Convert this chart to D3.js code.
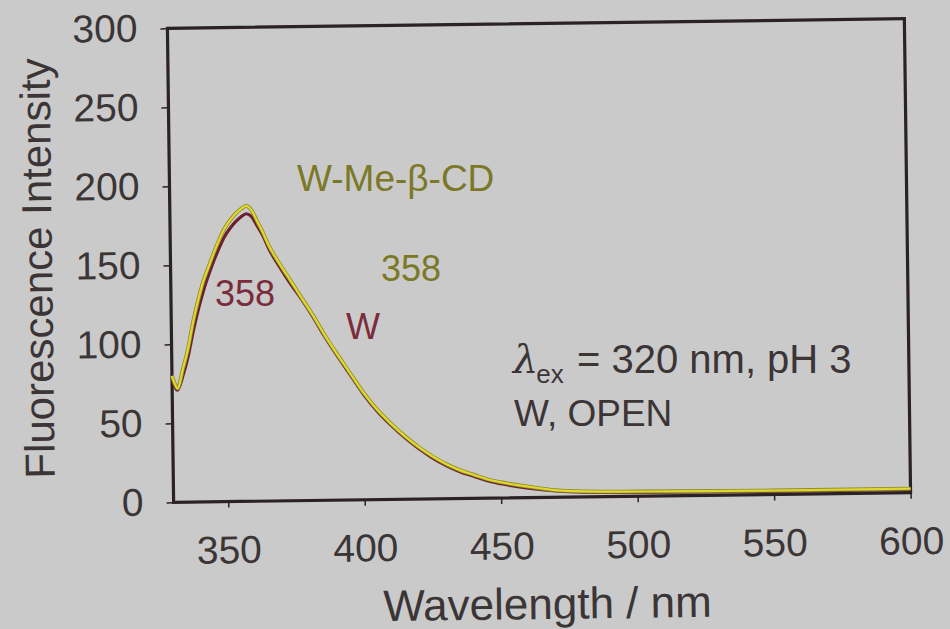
<!DOCTYPE html>
<html>
<head>
<meta charset="utf-8">
<script src="https://cdn.jsdelivr.net/npm/d3@7"></script>
<style>
  body { margin: 0; background: #c9c9c9; }
  svg { display: block; font-family: "Liberation Sans", Arial, sans-serif; }
</style>
</head>
<body>
<div id="chart"></div>
<script>
// wavelength (nm)
const wavelengths = [330, 331, 332, 334, 336, 338, 340, 342, 344, 346, 348, 350, 352, 354, 356, 358, 360, 362, 364, 366, 370, 374, 378, 382, 386, 390, 395, 400, 405, 410, 415, 420, 425, 430, 435, 440, 445, 450, 460, 470, 480, 500, 550, 600]
// W (maroon)
const seriesW = [78, 73, 71, 80, 92, 108, 122, 134, 144, 153, 161, 168, 173, 177, 180, 182, 180, 174, 168, 160, 148, 137, 127, 116, 104, 93, 80, 67, 56, 47, 39, 32, 26, 21, 17, 14, 11, 9, 6, 4, 3, 2.5, 2, 2]
// W-Me-beta-CD (yellow)
const seriesCD = [80, 75, 72, 84, 97, 114, 128, 140, 149, 158, 166, 173, 178, 182, 185, 187, 184, 177, 170, 162, 150, 139, 128, 117, 105, 94, 81, 68, 57, 48, 40, 33, 27, 22, 18, 15, 12, 10, 7, 4.5, 3.5, 3, 2.5, 2.5]

const xTicks = [350, 400, 450, 500, 550, 600]
const yTicks = [0, 50, 100, 150, 200, 250, 300]

const width = 950, height = 629
const margin = {left: 170.5, right: 42.5, top: 23.5, bottom: 131.5}
const ink = "#3b3536"
const frameColor = "#2b2226"

const svg = d3.select("#chart").append("svg")
    .attr("width", width)
    .attr("height", height)

svg.append("rect").attr("width", width).attr("height", height).attr("fill", "#cacaca")

// the photo is slightly tilted
const g = svg.append("g").attr("transform", "rotate(-0.75, 539, 261)")

const x = d3.scaleLinear().domain([330, 600]).range([margin.left, width - margin.right])
const y = d3.scaleLinear().domain([0, 300]).range([height - margin.bottom, margin.top])

const xAxis = g.append("g")
    .attr("transform", `translate(0,${height - margin.bottom})`)
    .call(d3.axisBottom(x).tickValues(xTicks).tickSize(6).tickPadding(28).tickSizeOuter(0))
const yAxis = g.append("g")
    .attr("transform", `translate(${margin.left},0)`)
    .call(d3.axisLeft(y).tickValues(yTicks).tickSize(7).tickPadding(23).tickSizeOuter(0))

;[xAxis, yAxis].forEach(a => {
    a.select(".domain").remove()
    a.selectAll("line").attr("stroke", frameColor).attr("stroke-width", 1.5)
    a.selectAll("text").attr("fill", ink).style("font-size", "39px")
})

// frame
g.append("rect")
    .attr("x", x(330)).attr("y", y(300))
    .attr("width", x(600) - x(330)).attr("height", y(0) - y(300))
    .attr("fill", "none").attr("stroke", frameColor).attr("stroke-width", 3.2)

const line = d3.line().curve(d3.curveMonotoneX)

g.append("path")
    .attr("d", line(wavelengths.map((w, i) => [x(w), y(seriesW[i])])))
    .attr("fill", "none").attr("stroke", "#6b2132").attr("stroke-width", 3.2)

g.append("path")
    .attr("d", line(wavelengths.map((w, i) => [x(w), y(seriesCD[i])])))
    .attr("fill", "none").attr("stroke", "#8f8a2a").attr("stroke-width", 3.8)
g.append("path")
    .attr("d", line(wavelengths.map((w, i) => [x(w), y(seriesCD[i])])))
    .attr("fill", "none").attr("stroke", "#dfd82e").attr("stroke-width", 2.2)

// axis titles
g.append("text")
    .attr("x", 543).attr("y", 619)
    .attr("text-anchor", "middle")
    .attr("fill", ink).style("font-size", "44px")
    .text("Wavelength / nm")
g.append("text")
    .attr("transform", "translate(52,262) rotate(-90)")
    .attr("text-anchor", "middle")
    .attr("fill", ink).style("font-size", "42px")
    .text("Fluorescence Intensity")

// annotations
const olive = "#7b7826", maroon = "#7a2c3c"
svg.append("text").attr("x", 297).attr("y", 191).attr("fill", olive).style("font-size", "37px").text("W-Me-β-CD")
svg.append("text").attr("x", 381).attr("y", 281).attr("fill", olive).style("font-size", "36px").text("358")
svg.append("text").attr("x", 215).attr("y", 306).attr("fill", maroon).style("font-size", "36px").text("358")
svg.append("text").attr("x", 346).attr("y", 339).attr("fill", maroon).style("font-size", "36px").text("W")

const lam = svg.append("text").attr("x", 513).attr("y", 373).attr("fill", ink).style("font-size", "40px")
lam.append("tspan").style("font-style", "italic").style("font-family", "'DejaVu Serif', serif").text("λ")
lam.append("tspan").attr("dy", 10).attr("dx", -2).style("font-size", "26px").text("ex")
lam.append("tspan").attr("x", 577).attr("dy", -10).text("= 320 nm, pH 3")
svg.append("text").attr("x", 514).attr("y", 426).attr("fill", ink).style("font-size", "37px").text("W, OPEN")
</script>
</body>
</html>
